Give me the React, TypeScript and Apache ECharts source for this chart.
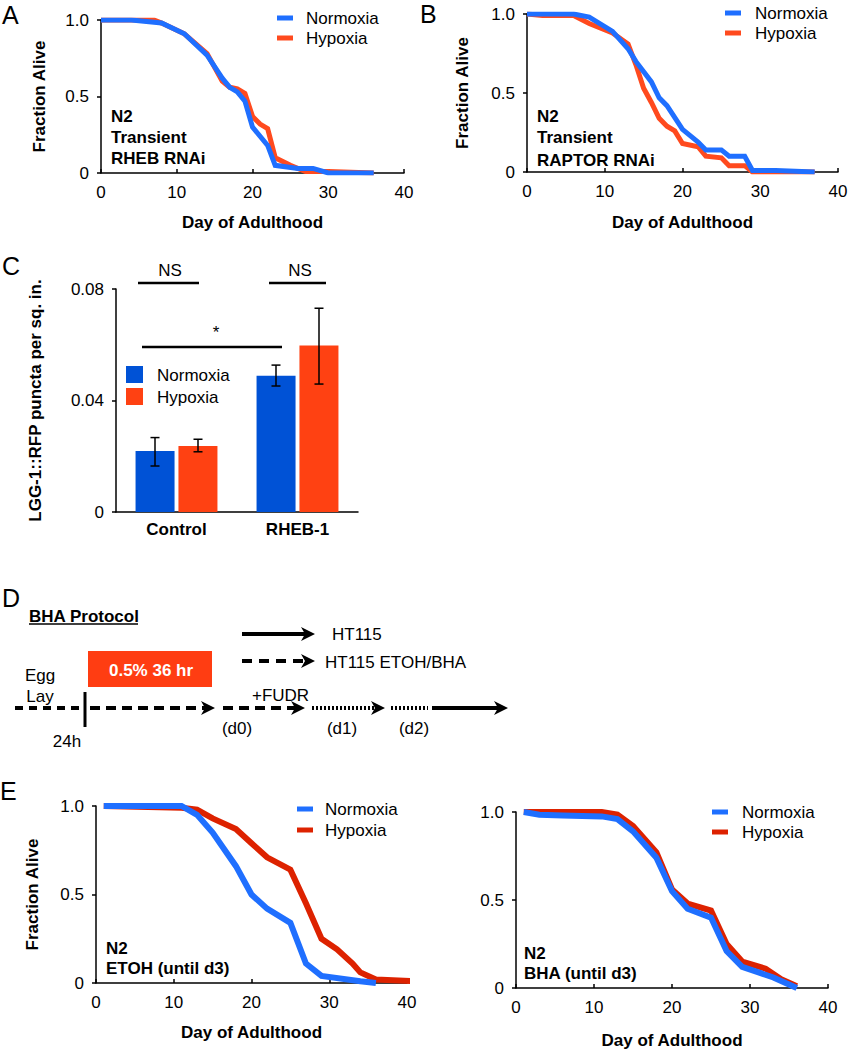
import React, { useEffect, useRef } from "react";
import * as echarts from "echarts";

// ---------- DATA ----------
// Panel A: Transient RHEB RNAi (day, fraction alive)
const A_NORMOXIA: [number, number][] = [[0, 1], [4, 1], [8, 0.98], [11, 0.91], [14, 0.77], [16, 0.62], [17, 0.56], [18, 0.53], [19, 0.47], [20, 0.3], [22, 0.18], [23, 0.05], [26, 0.03], [28, 0.03], [30, 0], [36, 0]];
const A_HYPOXIA: [number, number][] = [[0, 1], [7, 1], [8, 0.98], [11, 0.91], [14, 0.78], [16, 0.6], [17, 0.56], [18, 0.55], [19, 0.52], [20, 0.37], [21, 0.32], [22, 0.29], [23, 0.1], [25, 0.05], [27, 0.01], [30, 0.01], [36, 0]];
// Panel B: Transient RAPTOR RNAi
const B_NORMOXIA: [number, number][] = [[0, 1], [6, 1], [8, 0.98], [11, 0.89], [13, 0.78], [14, 0.7], [16, 0.57], [17, 0.47], [18, 0.42], [20, 0.27], [22, 0.19], [23, 0.14], [25, 0.14], [26, 0.1], [28, 0.1], [29, 0.01], [32, 0.01], [37, 0]];
const B_HYPOXIA: [number, number][] = [[0, 1], [2, 0.99], [6, 0.99], [8, 0.94], [11, 0.88], [13, 0.81], [14, 0.68], [15, 0.53], [16, 0.44], [17, 0.34], [18, 0.29], [19, 0.26], [20, 0.18], [22, 0.16], [23, 0.1], [25, 0.09], [26, 0.04], [28, 0.04], [29, 0], [37, 0]];
// Panel C: LGG-1::RFP puncta
const C_CATEGORIES = ["Control", "RHEB-1"];
const C_NORMOXIA_MEAN = [0.0219, 0.0489];
const C_NORMOXIA_LOW = [0.0165, 0.0452];
const C_NORMOXIA_HIGH = [0.0267, 0.0527];
const C_HYPOXIA_MEAN = [0.0237, 0.0597];
const C_HYPOXIA_LOW = [0.0216, 0.0459];
const C_HYPOXIA_HIGH = [0.0261, 0.0731];
// Panel E left: ETOH (until d3)
const E1_NORMOXIA: [number, number][] = [[1, 1], [11, 1], [13, 0.95], [15, 0.85], [18, 0.66], [20, 0.5], [22, 0.42], [25, 0.34], [27, 0.11], [29, 0.04], [34, 0.01], [36, 0]];
const E1_HYPOXIA: [number, number][] = [[1, 1], [11, 0.99], [13, 0.98], [15, 0.93], [18, 0.87], [20, 0.79], [22, 0.71], [25, 0.64], [27, 0.45], [29, 0.25], [31, 0.19], [33, 0.11], [34, 0.06], [36, 0.02], [41, 0.01]];
// Panel E right: BHA (until d3)
const E2_NORMOXIA: [number, number][] = [[1, 1], [3, 0.985], [6, 0.98], [11, 0.975], [13, 0.96], [15, 0.89], [18, 0.74], [20, 0.55], [22, 0.45], [25, 0.4], [27, 0.21], [29, 0.12], [31, 0.09], [33, 0.06], [35, 0.02], [36, 0]];
const E2_HYPOXIA: [number, number][] = [[1, 1], [11, 1], [13, 0.985], [15, 0.92], [18, 0.77], [20, 0.56], [22, 0.48], [25, 0.44], [27, 0.25], [29, 0.15], [32, 0.11], [34, 0.05], [36, 0.01]];
const SURV_TICKS = [0, 0.5, 1.0];
const DAY_TICKS = [0, 10, 20, 30, 40];

// ---------- STYLE ----------
const FONT = '"Liberation Sans", Arial, Helvetica, sans-serif';
const BLUE = "#1f6fff";
const ORANGE = "#ff4a1e";
const RED = "#dd2200";
const BAR_BLUE = "#0052d6";
const BAR_ORANGE = "#ff4112";

function txt(x: number, y: number, text: string, o: any = {}) {
  const align = o.align || "left";
  const va = o.va || "middle";
  return {
    type: "text",
    x,
    y,
    silent: true,
    style: {
      text,
      fill: o.color || "#000",
      font: `${o.bold ? "bold " : ""}${o.size || 17}px ${FONT}`,
      textAlign: align,
      textVerticalAlign: va,
      align,
      verticalAlign: va,
    },
  };
}
function ln(x1: number, y1: number, x2: number, y2: number, o: any = {}) {
  return {
    type: "line",
    silent: true,
    shape: { x1, y1, x2, y2 },
    style: { stroke: o.color || "#000", lineWidth: o.width || 2, lineDash: o.dash || null },
  };
}
function head(tip: number, y: number) {
  return {
    type: "polygon",
    silent: true,
    shape: { points: [[tip, y], [tip - 14, y - 7], [tip - 10, y], [tip - 14, y + 7]] },
    style: { fill: "#000" },
  };
}

const axisLineStyle = { show: true, lineStyle: { color: "#000", width: 1.5 } };
const labelStyle = { fontSize: 17, color: "#000", fontFamily: FONT };
const nameStyle = { fontSize: 17, color: "#000", fontFamily: FONT, fontWeight: "bold" as const };

function dayAxis(gridIndex: number, nameGap: number) {
  return {
    type: "value",
    gridIndex,
    min: DAY_TICKS[0],
    max: DAY_TICKS[DAY_TICKS.length - 1],
    interval: 10,
    name: "Day of Adulthood",
    nameLocation: "middle",
    nameGap,
    nameTextStyle: nameStyle,
    axisLine: axisLineStyle,
    axisTick: { show: true, inside: true, length: 4, lineStyle: { color: "#000", width: 1.5 } },
    axisLabel: { ...labelStyle, margin: 11 },
    splitLine: { show: false },
  };
}
function survAxis(gridIndex: number, nameGap: number, withName = true) {
  return {
    type: "value",
    gridIndex,
    min: SURV_TICKS[0],
    max: SURV_TICKS[SURV_TICKS.length - 1],
    interval: 0.5,
    name: withName ? "Fraction Alive" : "",
    nameLocation: "middle",
    nameGap,
    nameTextStyle: nameStyle,
    axisLine: axisLineStyle,
    axisTick: { show: true, inside: false, length: 4, lineStyle: { color: "#000", width: 1.5 } },
    axisLabel: { ...labelStyle, margin: 12, formatter: (v: number) => (v === 0 ? "0" : v.toFixed(1)) },
    splitLine: { show: false },
  };
}
function survLine(name: string, data: [number, number][], color: string, axis: number, width: number, z: number) {
  return {
    type: "line",
    name,
    xAxisIndex: axis,
    yAxisIndex: axis,
    data,
    showSymbol: false,
    symbol: "none",
    lineStyle: { color, width, join: "miter" },
    itemStyle: { color },
    z,
    silent: true,
  };
}
function legend(x: number, y1: number, y2: number, c1: string, c2: string, textX: number) {
  return [
    ln(x, y1, x + 16, y1, { color: c1, width: 5 }),
    ln(x, y2, x + 16, y2, { color: c2, width: 5 }),
    txt(textX, y1, "Normoxia"),
    txt(textX, y2, "Hypoxia"),
  ];
}

function errorSeries(name: string, low: number[], high: number[], offset: number) {
  return {
    type: "custom",
    name: name + " error",
    xAxisIndex: 2,
    yAxisIndex: 2,
    data: C_CATEGORIES.map((_, i) => [i, low[i], high[i]]),
    encode: { x: 0, y: [1, 2] },
    z: 10,
    silent: true,
    renderItem: (params: any, api: any) => {
      const i = api.value(0);
      const top = api.coord([i, api.value(2)]);
      const bot = api.coord([i, api.value(1)]);
      const x = top[0] + offset;
      const s = { stroke: "#000", lineWidth: 1.5 };
      return {
        type: "group",
        children: [
          { type: "line", shape: { x1: x, y1: top[1], x2: x, y2: bot[1] }, style: s },
          { type: "line", shape: { x1: x - 4.5, y1: top[1], x2: x + 4.5, y2: top[1] }, style: s },
          { type: "line", shape: { x1: x - 4.5, y1: bot[1], x2: x + 4.5, y2: bot[1] }, style: s },
        ],
      };
    },
  };
}

function buildOption() {
  const graphics: any[] = [
    // panel letters
    txt(2, 15, "A", { size: 25 }),
    txt(420, 14, "B", { size: 25 }),
    txt(2, 266, "C", { size: 25 }),
    txt(2, 598, "D", { size: 25 }),
    txt(0, 791, "E", { size: 25 }),
    // legends
    ...legend(277, 18, 38, BLUE, ORANGE, 306),
    ...legend(725, 13, 33, BLUE, ORANGE, 755),
    ...legend(297, 809, 830, BLUE, RED, 325),
    ...legend(712, 812, 832, BLUE, RED, 742),
    // annotations
    txt(111, 116, "N2", { bold: true }),
    txt(111, 137, "Transient", { bold: true }),
    txt(111, 158, "RHEB RNAi", { bold: true }),
    txt(537, 116, "N2", { bold: true }),
    txt(537, 137, "Transient", { bold: true }),
    txt(537, 160, "RAPTOR RNAi", { bold: true }),
    txt(106, 948, "N2", { bold: true }),
    txt(106, 968, "ETOH (until d3)", { bold: true }),
    txt(524, 953, "N2", { bold: true }),
    txt(524, 973, "BHA (until d3)", { bold: true }),
    // panel C significance
    txt(170, 270, "NS", { align: "center" }),
    ln(138, 283, 199, 283, { width: 2.5 }),
    txt(300, 270, "NS", { align: "center" }),
    ln(269, 283, 326, 283, { width: 2.5 }),
    txt(216, 332, "*", { align: "center" }),
    ln(142, 347, 282, 347, { width: 2.5 }),
    // panel C legend
    { type: "rect", silent: true, shape: { x: 126, y: 366, width: 17, height: 17 }, style: { fill: BAR_BLUE } },
    { type: "rect", silent: true, shape: { x: 126, y: 388, width: 17, height: 17 }, style: { fill: BAR_ORANGE } },
    txt(157, 375, "Normoxia"),
    txt(157, 397, "Hypoxia"),
    // panel D
    txt(29, 616, "BHA Protocol", { bold: true }),
    ln(29, 624, 138, 624, { width: 1.5 }),
    ln(242, 634, 306, 634, { width: 4 }),
    head(315, 634),
    txt(332, 634, "HT115"),
    ln(242, 661, 306, 661, { width: 4, dash: [10, 7] }),
    head(315, 661),
    txt(325, 662, "HT115 ETOH/BHA"),
    { type: "rect", silent: true, shape: { x: 88, y: 651, width: 124, height: 36 }, style: { fill: "#ff3d12" } },
    txt(151, 670, "0.5% 36 hr", { bold: true, color: "#fff", align: "center" }),
    txt(40, 675, "Egg", { align: "center" }),
    txt(40, 696, "Lay", { align: "center" }),
    ln(15, 708, 83, 708, { width: 4, dash: [8, 6] }),
    ln(85, 692, 85, 727, { width: 3 }),
    ln(90, 708, 206, 708, { width: 4, dash: [10, 6] }),
    head(215, 708),
    ln(223, 708, 296, 708, { width: 4, dash: [10, 6] }),
    head(305, 708),
    txt(252, 695, "+FUDR"),
    txt(237, 728, "(d0)", { align: "center" }),
    ln(312, 708, 376, 708, { width: 4, dash: [2, 2] }),
    head(385, 708),
    txt(342, 728, "(d1)", { align: "center" }),
    ln(391, 708, 428, 708, { width: 4, dash: [2, 2] }),
    txt(414, 728, "(d2)", { align: "center" }),
    ln(432, 708, 499, 708, { width: 4 }),
    head(508, 708),
    txt(67, 741, "24h", { align: "center" }),
  ];

  return {
    animation: false,
    backgroundColor: "#fff",
    textStyle: { fontFamily: FONT },
    grid: [
      { left: 101, top: 20, width: 303, height: 153, outerBoundsMode: "none" },
      { left: 527, top: 14, width: 311, height: 158, outerBoundsMode: "none" },
      { left: 116, top: 289, width: 242, height: 223, outerBoundsMode: "none" },
      { left: 96, top: 806, width: 311, height: 177, outerBoundsMode: "none" },
      { left: 516, top: 812, width: 312, height: 176, outerBoundsMode: "none" },
    ],
    xAxis: [
      dayAxis(0, 41),
      dayAxis(1, 42),
      {
        type: "category",
        gridIndex: 2,
        data: C_CATEGORIES,
        axisLine: axisLineStyle,
        axisTick: { show: false },
        axisLabel: { ...labelStyle, fontWeight: "bold", margin: 9 },
        splitLine: { show: false },
      },
      dayAxis(3, 41),
      dayAxis(4, 44),
    ],
    yAxis: [
      survAxis(0, 53),
      survAxis(1, 56),
      {
        type: "value",
        gridIndex: 2,
        min: 0,
        max: 0.08,
        interval: 0.04,
        name: "LGG-1::RFP puncta per sq. in.",
        nameLocation: "middle",
        nameGap: 72,
        nameTextStyle: nameStyle,
        axisLine: axisLineStyle,
        axisTick: { show: true, inside: false, length: 4, lineStyle: { color: "#000", width: 1.5 } },
        axisLabel: { ...labelStyle, margin: 12, formatter: (v: number) => (v === 0 ? "0" : v.toFixed(2)) },
        splitLine: { show: false },
      },
      survAxis(3, 55),
      survAxis(4, 55, false),
    ],
    series: [
      survLine("Hypoxia", A_HYPOXIA, ORANGE, 0, 5, 2),
      survLine("Normoxia", A_NORMOXIA, BLUE, 0, 5, 3),
      survLine("Hypoxia", B_HYPOXIA, ORANGE, 1, 5, 2),
      survLine("Normoxia", B_NORMOXIA, BLUE, 1, 5, 3),
      {
        type: "bar",
        name: "Normoxia",
        xAxisIndex: 2,
        yAxisIndex: 2,
        data: C_NORMOXIA_MEAN,
        barWidth: 39,
        barGap: "10%",
        itemStyle: { color: BAR_BLUE },
        silent: true,
      },
      {
        type: "bar",
        name: "Hypoxia",
        xAxisIndex: 2,
        yAxisIndex: 2,
        data: C_HYPOXIA_MEAN,
        barWidth: 39,
        barGap: "10%",
        itemStyle: { color: BAR_ORANGE },
        silent: true,
      },
      errorSeries("Normoxia", C_NORMOXIA_LOW, C_NORMOXIA_HIGH, -21.5),
      errorSeries("Hypoxia", C_HYPOXIA_LOW, C_HYPOXIA_HIGH, 21.5),
      survLine("Hypoxia", E1_HYPOXIA, RED, 3, 6, 2),
      survLine("Normoxia", E1_NORMOXIA, BLUE, 3, 6, 3),
      survLine("Hypoxia", E2_HYPOXIA, RED, 4, 6, 2),
      survLine("Normoxia", E2_NORMOXIA, BLUE, 4, 6, 3),
    ],
    graphic: graphics,
  };
}

export default function App() {
  const ref = useRef<HTMLDivElement>(null);
  useEffect(() => {
    document.body.style.margin = "0";
    if (!ref.current) return;
    const chart = echarts.init(ref.current, undefined, { renderer: "svg" });
    chart.setOption(buildOption() as any);
    return () => chart.dispose();
  }, []);
  return <div ref={ref} style={{ width: 848, height: 1050, background: "#fff" }} />;
}
